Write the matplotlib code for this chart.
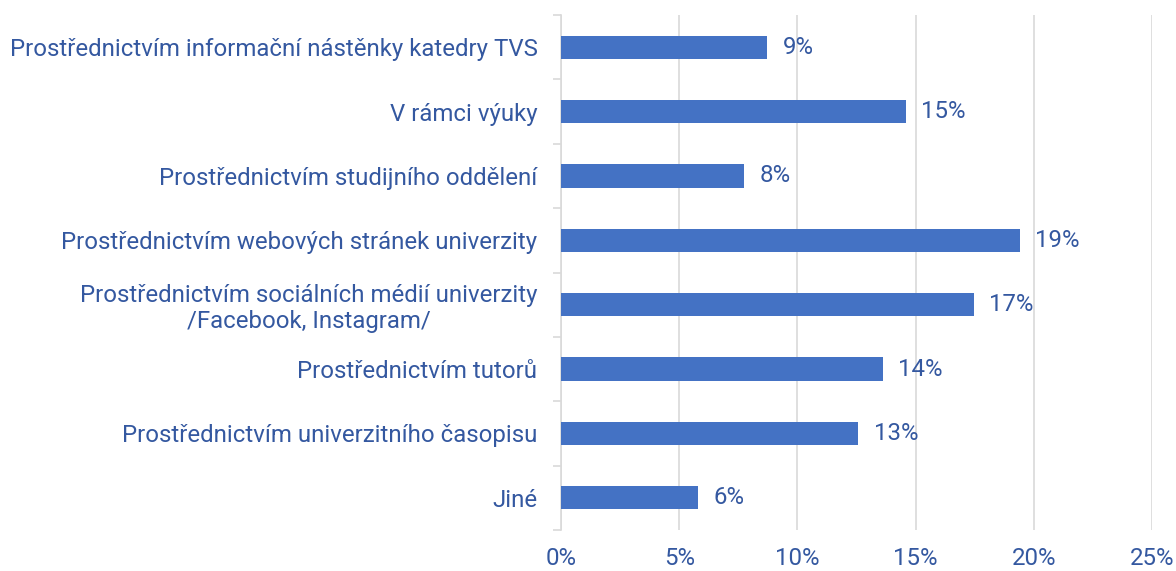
import matplotlib.pyplot as plt
from matplotlib.ticker import FuncFormatter, FixedLocator

plt.rcParams['font.family'] = ['Roboto', 'DejaVu Sans']

# odpovědi shora dolů
kategorie = [
    "Prostřednictvím informační nástěnky katedry TVS",
    "V rámci výuky",
    "Prostřednictvím studijního oddělení",
    "Prostřednictvím webových stránek univerzity",
    "Prostřednictvím sociálních médií univerzity\n/Facebook, Instagram/",
    "Prostřednictvím tutorů",
    "Prostřednictvím univerzitního časopisu",
    "Jiné",
]
podil = [8.73, 14.58, 7.75, 19.4, 17.46, 13.6, 12.58, 5.8]

bar_col = '#4472C4'
txt_col = '#3458A0'
grid_col = '#D9D9D9'
fs = 17.3

fig = plt.figure(figsize=(11.76, 5.71), dpi=100)
ax = fig.add_axes([561 / 1176, 41 / 571, 591 / 1176, 515 / 571])

y = list(range(len(kategorie)))
ax.barh(y, podil, height=0.36, color=bar_col, zorder=3)
for yi, v in zip(y, podil):
    ax.text(v + 0.65, yi, f"{v:.0f}%", va='center', ha='left',
            fontsize=fs, color=txt_col)

ax.set_xlim(0, 25)
ax.set_ylim(len(kategorie) - 0.5, -0.5)
ax.set_xticks([0, 5, 10, 15, 20, 25])
ax.xaxis.set_major_formatter(FuncFormatter(lambda x, p: f"{x:.0f}%"))
ax.grid(axis='x', color=grid_col, lw=1.2, zorder=0)

ax.set_yticks(y)
ax.set_yticklabels(kategorie, multialignment='center', linespacing=1.15)
ax.yaxis.set_minor_locator(FixedLocator([i - 0.5 for i in range(len(kategorie) + 1)]))
ax.tick_params(axis='y', which='major', length=0, pad=17, labelsize=fs, labelcolor=txt_col)
ax.tick_params(axis='y', which='minor', length=6, color=grid_col, width=1.2)
ax.tick_params(axis='x', length=0, pad=12, labelsize=fs, labelcolor=txt_col)

for s in ['top', 'right', 'bottom']:
    ax.spines[s].set_visible(False)
ax.spines['left'].set_color(grid_col)
ax.spines['left'].set_linewidth(1.2)

fig.savefig('out.png', dpi=100)
